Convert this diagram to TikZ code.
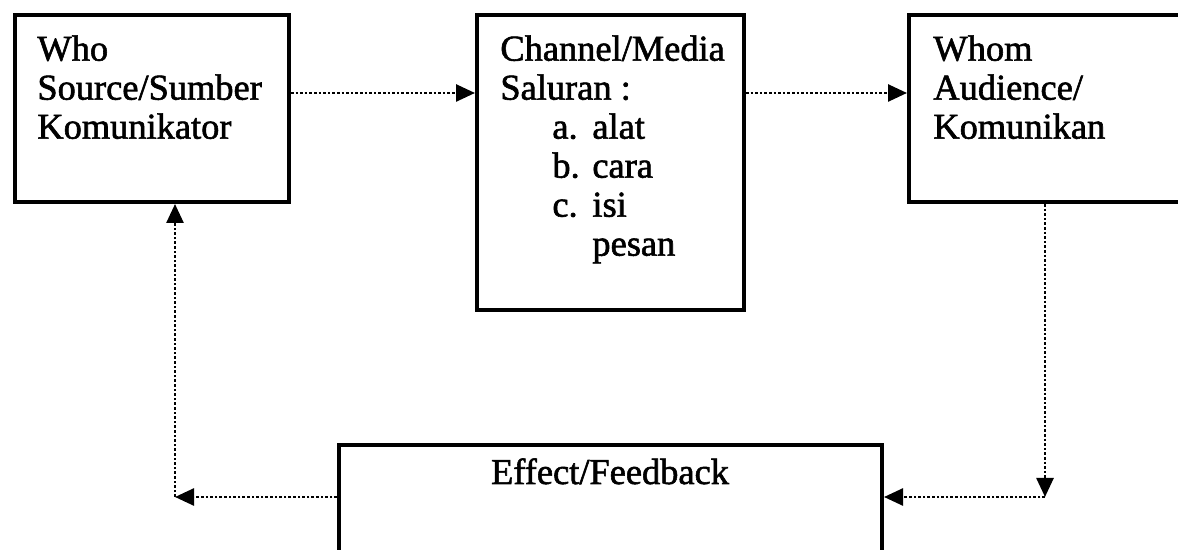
\documentclass[tikz,border=0pt]{standalone}
\usepackage{fontspec}
\setmainfont{Liberation Serif}
\newfontfamily\scanfont{Liberation Serif}[FakeBold=1.6]
\usetikzlibrary{arrows.meta}
\begin{document}
\begin{tikzpicture}[x=0.5pt,y=-0.5pt,
  box/.style={draw,line width=2pt,anchor=north west,inner sep=0pt},
  txt/.style={anchor=north west,inner sep=0pt,align=left,font=\scanfont\fontsize{18.2}{19.5}\selectfont},
  flow/.style={densely dotted,line width=1.3pt},
  tip/.style={-{Triangle[length=9.5pt,width=8.5pt]}}]
\useasboundingbox (0,0) rectangle (1178,550);
% boxes
\node[box,minimum width=274pt*0.5,minimum height=187pt*0.5] (who) at (13,13) {};
\node[box,minimum width=267pt*0.5,minimum height=295pt*0.5] (chan) at (475,13) {};
\node[box,minimum width=300pt*0.5,minimum height=187pt*0.5] (whom) at (907,13) {};
\node[box,minimum width=543pt*0.5,minimum height=120pt*0.5] (eff) at (337,443) {};
% texts
\node[txt] (whotxt) at (37,35) {Who\\Source/Sumber\\Komunikator};
\node[txt] (chantxt) at (500,35) {Channel/Media\\Saluran :\\
  \hspace*{26pt}\makebox[20pt][l]{a.}alat\\
  \hspace*{26pt}\makebox[20pt][l]{b.}cara\\
  \hspace*{26pt}\makebox[20pt][l]{c.}isi\\
  \hspace*{46pt}pesan};
\node[txt] (whomtxt) at (933,35) {Whom\\Audience/\\Komunikan};
\node[anchor=base,inner sep=0pt,font=\scanfont\fontsize{18.2}{19.5}\selectfont] (efftxt) at (610,484) {Effect/Feedback};
% coordinates
\coordinate (r1) at (1045,497);
\coordinate (l1) at (175,497);
% connectors
\draw[flow,tip] (who.east |- 0,93) -- (chan.west |- 0,93);
\draw[flow,tip] (chan.east |- 0,93) -- (whom.west |- 0,93);
\draw[flow,tip] (r1 |- whom.south) -- (r1);
\draw[flow,tip] (r1) -- (eff.east |- r1);
\draw[flow,tip] (eff.west |- l1) -- (l1);
\draw[flow,tip] (l1) -- (l1 |- who.south);
\end{tikzpicture}
\end{document}
